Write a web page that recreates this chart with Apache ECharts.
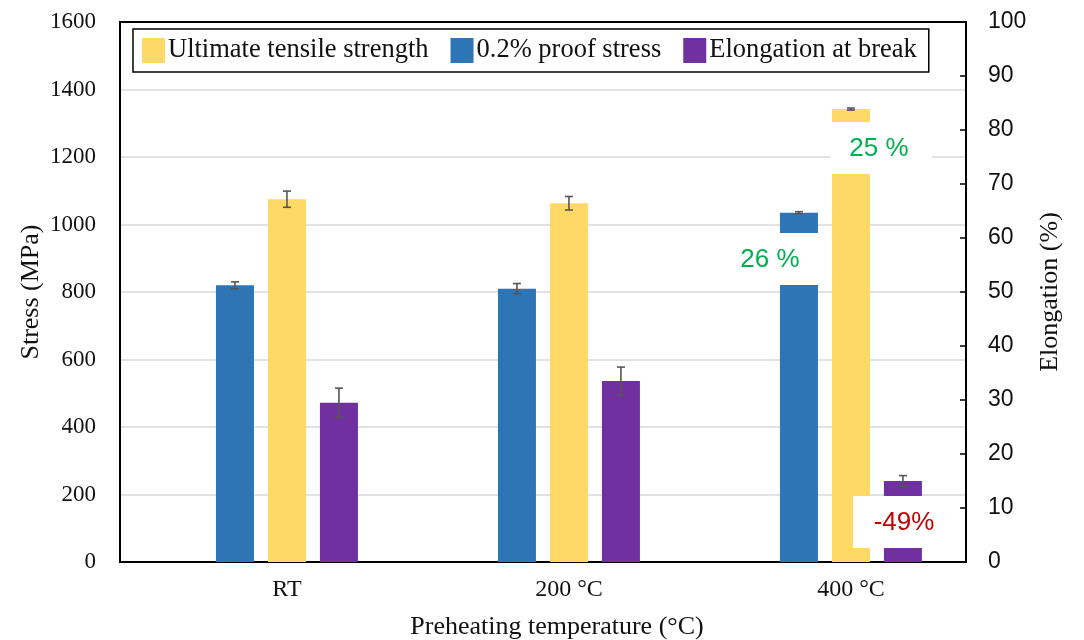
<!DOCTYPE html>
<html>
<head>
<meta charset="utf-8">
<script src="https://cdn.jsdelivr.net/npm/echarts@6/dist/echarts.min.js"></script>
<style>html,body{margin:0;padding:0;background:#fff}#c{width:1084px;height:640px}</style>
</head>
<body>
<div id="c"></div>
<script>
// ---- data ----
const categories = ['RT', '200 °C', '400 °C'];
const proofStress = [820, 810, 1035];
const proofStressErr = [10, 15, 3];
const uts = [1075, 1063, 1342];
const utsErr = [24, 20, 3];
const elongation = [29.5, 33.5, 15.0];
const elongationErr = [2.7, 2.6, 1.0];
const stressTicks = [0, 1600, 200];   // min, max, interval
const elongTicks = [0, 100, 10];
const legendOrder = ['Ultimate tensile strength', '0.2% proof stress', 'Elongation at break'];
const annotations = [
  { text: '26 %', color: '#00b050' },
  { text: '25 %', color: '#00b050' },
  { text: '-49%', color: '#c00000' }
];

// ---- styling ----
const SERIF = '"Liberation Serif", "DejaVu Serif", serif';
const SANS = '"Liberation Sans", Arial, sans-serif';
const BAR_W = 38, GAP_PX = 14;
const colors = { blue: '#2e75b6', yellow: '#ffd966', purple: '#7030a0' };

const chart = echarts.init(document.getElementById('c'));

function pairs(vals) { return vals.map((v, i) => [i, v]); }
function errSeries(name, vals, errs, idx, yAxisIndex) {
  return {
    type: 'custom', name: name, xAxisIndex: 0, yAxisIndex: yAxisIndex,
    encode: { x: 0, y: 1 }, silent: true, z: 5,
    data: vals.map((v, i) => [i, v, errs[i]]),
    renderItem: function (params, api) {
      const x = api.value(0), v = api.value(1), e = api.value(2);
      const off = (idx - 1) * (BAR_W + GAP_PX);
      const top = api.coord([x, v + e]);
      const bot = api.coord([x, v - e]);
      const cx = top[0] + off;
      const st = { stroke: '#555', lineWidth: 1.6 };
      return {
        type: 'group', children: [
          { type: 'line', shape: { x1: cx, y1: top[1], x2: cx, y2: bot[1] }, style: st },
          { type: 'line', shape: { x1: cx - 4, y1: top[1], x2: cx + 4, y2: top[1] }, style: st },
          { type: 'line', shape: { x1: cx - 4, y1: bot[1], x2: cx + 4, y2: bot[1] }, style: st }
        ]
      };
    }
  };
}

const option = {
  animation: false,
  backgroundColor: '#fff',
  grid: { left: 120, right: 118, top: 22, bottom: 78, containLabel: false, outerBoundsMode: 'none', show: true, borderColor: '#000', borderWidth: 2, backgroundColor: 'transparent' },
  legend: {
    data: legendOrder, left: 133, top: 29, orient: 'horizontal',
    backgroundColor: '#fff', borderColor: '#000', borderWidth: 1.5, borderRadius: 0,
    padding: [8, 12, 8, 9], itemGap: 22, itemWidth: 23, itemHeight: 25, icon: 'rect',
    textStyle: { fontFamily: SERIF, fontSize: 26.5, color: '#111', padding: [0, 0, 0, -2] }
  },
  xAxis: {
    type: 'value', min: -0.592, max: 2.408,
    name: 'Preheating temperature (°C)', nameLocation: 'middle', nameGap: 52,
    nameTextStyle: { fontFamily: SERIF, fontSize: 26, color: '#111', padding: [0, 0, 0, 28] },
    splitLine: { show: false }, axisTick: { show: false },
    axisLine: { show: true, onZero: false, lineStyle: { color: '#000', width: 2 } },
    axisLabel: {
      customValues: [0, 1, 2], margin: 16,
      formatter: v => categories[Math.round(v)],
      fontFamily: SERIF, fontSize: 24, color: '#111'
    }
  },
  yAxis: [
    {
      type: 'value', min: stressTicks[0], max: stressTicks[1], interval: stressTicks[2],
      name: 'Stress (MPa)', nameLocation: 'middle', nameGap: 76, nameRotate: 90, nameMoveOverlap: false,
      nameTextStyle: { fontFamily: SERIF, fontSize: 26, color: '#111' },
      axisLine: { show: true, onZero: false, lineStyle: { color: '#000', width: 2 } },
      axisTick: { show: false },
      splitLine: { show: true, showMaxLine: false, showMinLine: false, lineStyle: { color: '#d9d9d9', width: 1.5 } },
      axisLabel: { fontFamily: SERIF, fontSize: 23, color: '#111', margin: 24, formatter: v => String(v) }
    },
    {
      type: 'value', min: elongTicks[0], max: elongTicks[1], interval: elongTicks[2], position: 'right', z: 20,
      name: 'Elongation (%)', nameLocation: 'middle', nameGap: 70, nameRotate: 90,
      nameTextStyle: { fontFamily: SERIF, fontSize: 26, color: '#111' },
      axisLine: { show: true, onZero: false, lineStyle: { color: '#000', width: 2 } },
      axisTick: { show: true, inside: true, length: 6, lineStyle: { color: '#000', width: 1.5 } },
      splitLine: { show: false },
      axisLabel: { fontFamily: SANS, fontSize: 23, color: '#111', margin: 22, formatter: v => String(v) }
    }
  ],
  series: [
    { type: 'bar', name: '0.2% proof stress', yAxisIndex: 0, data: pairs(proofStress), barWidth: BAR_W, barGap: (GAP_PX / BAR_W * 100).toFixed(1) + '%', itemStyle: { color: colors.blue } },
    { type: 'bar', name: 'Ultimate tensile strength', yAxisIndex: 0, data: pairs(uts), barWidth: BAR_W, barGap: (GAP_PX / BAR_W * 100).toFixed(1) + '%', itemStyle: { color: colors.yellow } },
    { type: 'bar', name: 'Elongation at break', yAxisIndex: 1, data: pairs(elongation), barWidth: BAR_W, barGap: (GAP_PX / BAR_W * 100).toFixed(1) + '%', itemStyle: { color: colors.purple } },
    errSeries('err-proof', proofStress, proofStressErr, 0, 0),
    errSeries('err-uts', uts, utsErr, 1, 0),
    errSeries('err-elong', elongation, elongationErr, 2, 1)
  ],
  graphic: [
    { type: 'rect', z: 10, shape: { x: 722, y: 233, width: 96, height: 52 }, style: { fill: '#fff' } },
    { type: 'text', z: 11, x: 770, y: 260, style: { text: annotations[0].text, fill: annotations[0].color, font: '26px ' + SANS, align: 'center', verticalAlign: 'middle' } },
    { type: 'rect', z: 10, shape: { x: 830, y: 122, width: 102, height: 52 }, style: { fill: '#fff' } },
    { type: 'text', z: 11, x: 879, y: 149, style: { text: annotations[1].text, fill: annotations[1].color, font: '26px ' + SANS, align: 'center', verticalAlign: 'middle' } },
    { type: 'rect', z: 10, shape: { x: 853, y: 496, width: 110, height: 52 }, style: { fill: '#fff' } },
    { type: 'text', z: 11, x: 904, y: 523, style: { text: annotations[2].text, fill: annotations[2].color, font: '26px ' + SANS, align: 'center', verticalAlign: 'middle' } }
  ]
};
chart.setOption(option);
</script>
</body>
</html>
